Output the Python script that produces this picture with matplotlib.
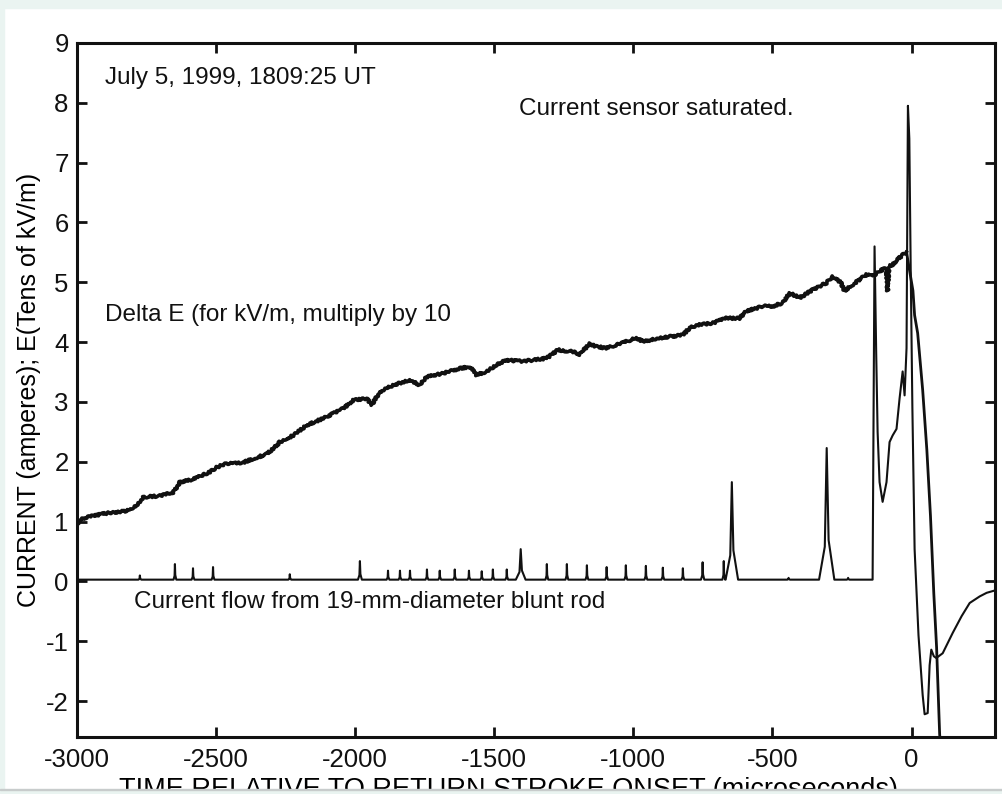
import matplotlib.pyplot as plt
from matplotlib.patches import Rectangle

plt.rcParams['font.family'] = ['Liberation Sans', 'DejaVu Sans']
plt.rcParams['axes.unicode_minus'] = False

# Delta E trace, tens of kV/m, time in microseconds
e_t = [-3000, -2989, -2941, -2881, -2821, -2786, -2762, -2702, -2654, -2630,
       -2582, -2522, -2498, -2462, -2402, -2367, -2318, -2295, -2271, -2223,
       -2175, -2103, -2043, -2007, -1959, -1941, -1911, -1864, -1804, -1768,
       -1744, -1684, -1624, -1588, -1564, -1528, -1492, -1456, -1396, -1312,
       -1271, -1217, -1193, -1157, -1139, -1097, -1049, -989, -965, -905,
       -857, -822, -797, -762, -714, -666, -618, -594, -534, -498,
       -462, -438, -402, -354, -306, -284, -255, -241, -212, -162,
       -140, -115, -90, -86, -82, -68, -32, -18,
       5, 11, 22, 40, 55, 68, 80, 90, 101, 110]
e_v = [0.95, 1.04, 1.10, 1.15, 1.18, 1.27, 1.41, 1.43, 1.49, 1.66,
       1.71, 1.83, 1.91, 1.97, 1.99, 2.05, 2.13, 2.22, 2.33, 2.44,
       2.61, 2.75, 2.89, 3.03, 3.06, 2.95, 3.17, 3.28, 3.37, 3.28,
       3.42, 3.48, 3.56, 3.59, 3.45, 3.51, 3.62, 3.70, 3.68, 3.73,
       3.87, 3.84, 3.79, 3.98, 3.93, 3.90, 3.97, 4.07, 4.01, 4.07,
       4.10, 4.12, 4.24, 4.29, 4.32, 4.40, 4.40, 4.52, 4.60, 4.60,
       4.66, 4.82, 4.74, 4.88, 4.99, 5.10, 5.00, 4.86, 4.96, 5.13,
       5.10, 5.19, 5.24, 4.86, 5.26, 5.30, 5.46, 5.50,
       4.86, 4.45, 4.15, 3.20, 2.20, 1.10, -0.20, -1.10, -2.55, -3.20]

# rod current, amperes: quiet baseline with small pulses
cur_base = 0.03
pulse_t = [-2774, -2648, -2583, -2511, -2235, -1983, -1882, -1839, -1803, -1742,
           -1696, -1642, -1591, -1545, -1505, -1455, -1405, -1311, -1239, -1167,
           -1096, -1027, -955, -894, -822, -751, -675, -646, -442, -305, -228]
pulse_h = [0.10, 0.29, 0.22, 0.24, 0.12, 0.34, 0.18, 0.18, 0.18, 0.20,
           0.18, 0.20, 0.18, 0.17, 0.20, 0.20, 0.54, 0.29, 0.29, 0.27,
           0.24, 0.27, 0.26, 0.23, 0.22, 0.32, 0.34, 1.66, 0.06, 2.23, 0.06]
pulse_w = [10, 10, 10, 10, 10, 14, 10, 10, 10, 10,
           10, 10, 10, 10, 10, 10, 35, 10, 10, 10,
           10, 10, 10, 10, 10, 12, 10, 45, 10, 55, 10]

# current through the return stroke (sensor saturates near 8 A)
rs_t = [-140, -133, -127, -122, -115, -104, -90, -79, -68, -54,
        -43, -32, -25, -18, -13, -8, -3, 3, 11, 25,
        40, 47, 58, 65, 71, 80, 89, 112, 148, 180,
        209, 245, 270, 300]
rs_v = [0.03, 5.60, 3.80, 2.50, 1.66, 1.33, 1.66, 2.33, 2.44, 2.55,
        3.06, 3.51, 3.11, 3.90, 7.95, 7.40, 5.20, 2.90, 0.54, -0.90,
        -1.90, -2.22, -2.20, -1.40, -1.14, -1.25, -1.28, -1.20, -0.86, -0.58,
        -0.36, -0.25, -0.19, -0.15]

cur_t, cur_v = [-3000], [cur_base]
for t, h, w in zip(pulse_t, pulse_h, pulse_w):
    cur_t += [t - w / 2, t - w / 8, t, t + w / 8, t + w / 2]
    cur_v += [cur_base, cur_base + 0.25 * (h - cur_base), h,
              cur_base + 0.3 * (h - cur_base), cur_base]
cur_t += rs_t
cur_v += rs_v

fig = plt.figure(figsize=(10.03, 7.94), dpi=100)
ax = fig.add_axes([77 / 1003, 1 - 737 / 794, 918 / 1003, 694 / 794])

# slow field change is noisy; the collapse after onset is a clean trace
n_slow = e_t.index(-18) + 1
e_line, = ax.plot(e_t[:n_slow], e_v[:n_slow], color='#111111', lw=2.6,
                  solid_joinstyle='round')
e_line.set_sketch_params(scale=1.1, length=4, randomness=3)
ax.plot(e_t[n_slow - 1:], e_v[n_slow - 1:], color='#111111', lw=2.0)
ax.plot(cur_t, cur_v, color='#111111', lw=1.5)

ax.set_xlim(-3000, 300)
ax.set_ylim(-2.6, 9)
ax.set_xticks(range(-3000, 1, 500))
ax.set_yticks(range(-2, 10))
ax.tick_params(direction='in', length=7, width=2, top=True, right=True,
               labelsize=18.5, colors='#111111')
ax.tick_params(axis='x', pad=8)
ax.tick_params(axis='y', pad=6)
for s in ax.spines.values():
    s.set_linewidth(2.2)
    s.set_color('#111111')

ax.set_ylabel('CURRENT (amperes); E(Tens of kV/m)', fontsize=18, va='center')
ax.yaxis.set_label_coords(-0.052, 0.5)
ax.set_xlabel('TIME RELATIVE TO RETURN STROKE ONSET (microseconds)',
              fontsize=19.5, va='top')
ax.xaxis.set_label_coords(0.4695, -0.058)

txt = dict(fontsize=17.5, va='baseline', ha='left', color='#111111')
ax.text(-2899, 8.32, 'July 5, 1999, 1809:25 UT', **txt)
ax.text(-1412, 7.80, 'Current sensor saturated.', **txt)
ax.text(-2899, 4.35, 'Delta E (for kV/m, multiply by 10', **txt)
ax.text(-2795, -0.45, 'Current flow from 19-mm-diameter blunt rod', **txt)

# thin pale frame round the page
frame = '#eaf4f1'
fig.patches.append(Rectangle((0, 1 - 8 / 794), 1, 8 / 794, transform=fig.transFigure,
                             color=frame, zorder=10))
fig.patches.append(Rectangle((0, 0), 4 / 1003, 1, transform=fig.transFigure,
                             color=frame, zorder=10))
fig.patches.append(Rectangle((0, 0), 1, 4 / 794, transform=fig.transFigure,
                             color=frame, zorder=10))
fig.patches.append(Rectangle((0, 4 / 794), 1, 1.5 / 794, transform=fig.transFigure,
                             color='#c8cccc', zorder=10))

fig.savefig('out.png', dpi=100)
